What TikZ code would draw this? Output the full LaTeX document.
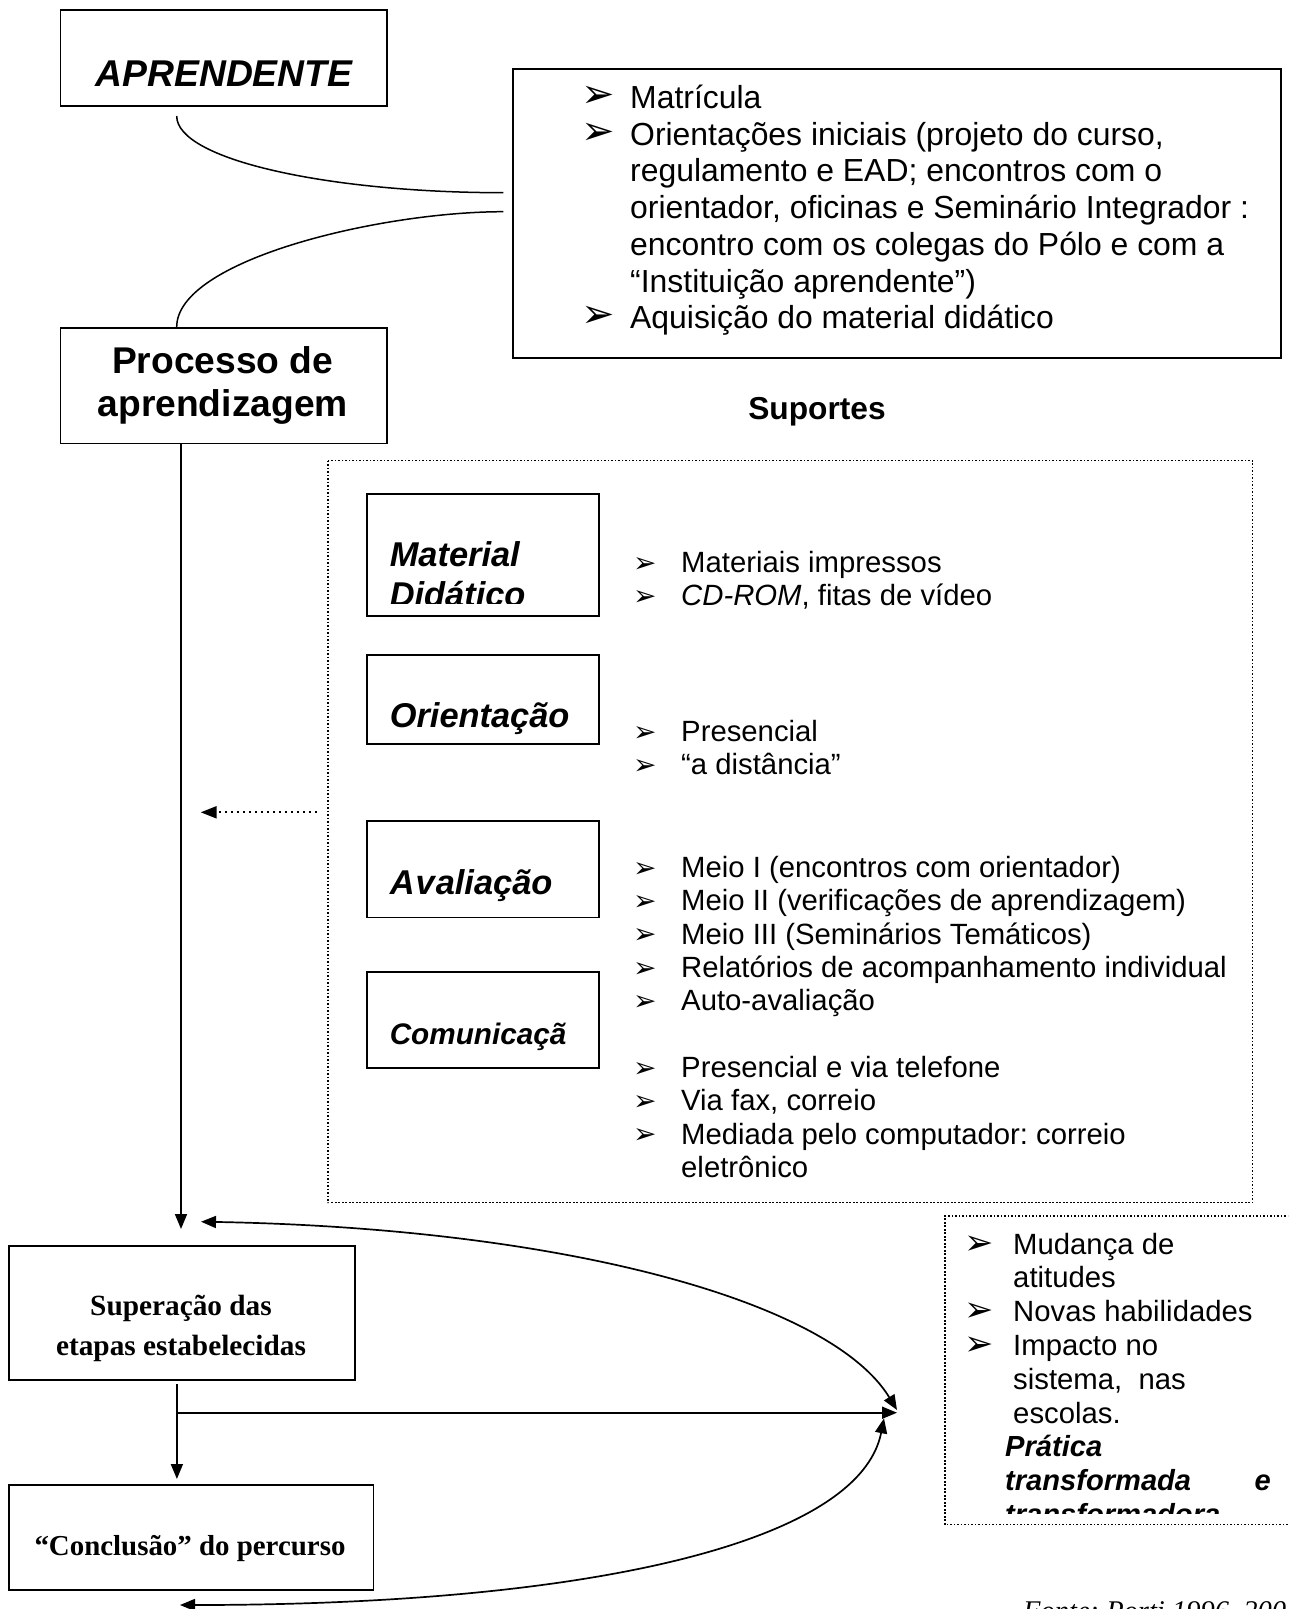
\documentclass[tikz,border=0pt]{standalone}
\usepackage{fontspec}
\setmainfont{Liberation Sans}
\newfontfamily\tnr{Liberation Serif}
\newfontfamily\dv{DejaVu Sans}
\usetikzlibrary{arrows.meta}
\frenchspacing
\newcommand\myfs[2]{\fontsize{#1pt}{#2pt}\selectfont}
\newcommand\mybul[1]{{\dv\fontsize{#1pt}{#1pt}\selectfont ➢}}
\begin{document}
\begin{tikzpicture}[x=1pt,y=-1pt,
  box/.style={draw, line width=1.6pt, inner sep=0pt, anchor=north west},
  dotline/.style={line width=1.6pt, dash pattern=on 1.6pt off 1.9pt},
  conn/.style={line width=1.7pt},
  tipT/.style={-{Triangle[length=15pt,width=12pt]}},
  tipTT/.style={{Triangle[length=15pt,width=12pt]}-{Triangle[length=15pt,width=12pt]}},
  bw/.style={anchor=base west, inner sep=0pt},
  bc/.style={anchor=base, inner sep=0pt},
  tbig/.style={font=\myfs{31.9}{36.7}},
  tmid/.style={font=\myfs{29.3}{33.8}},
  head/.style={font=\myfs{34.4}{39}\bfseries\itshape},
]
\useasboundingbox (0,0) rectangle (1288,1609);
\clip (0,0) rectangle (1288,1609);
\fill[white] (0,0) rectangle (1288,1609);

% ---------- top ----------
\node[box, minimum width=326.5pt, minimum height=96pt] (aprendente) at (59.5,9) {};
\node[bc, font=\myfs{37.3}{43}\bfseries\itshape] (aprtxt) at (224,86) {APRENDENTE};

\node[box, minimum width=326.5pt, minimum height=115.5pt] (processo) at (59.5,327) {};
\node[bc, font=\myfs{37.2}{43}\bfseries] (proc1) at (222.75,373.3) {Processo de};
\node[bc, font=\myfs{37.2}{43}\bfseries] (proc2) at (222.75,416.7) {aprendizagem};

\node[box, minimum width=768pt, minimum height=289pt] (topbox) at (512,68) {};
\node[bw] (tb1) at (581,107.5) {\mybul{40}};
\node[bw, tbig] (tt1) at (630,108.5) {Matrícula};
\node[bw] (tb2) at (581,144.2) {\mybul{40}};
\node[bw, tbig] (tt2) at (630,145.2) {Orientações iniciais (projeto do curso,};
\node[bw, tbig] (tt3) at (630,181.9) {regulamento e EAD; encontros com o};
\node[bw, tbig] (tt4) at (630,218.6) {orientador, oficinas e Seminário Integrador :};
\node[bw, tbig] (tt5) at (630,255.3) {encontro com os colegas do Pólo e com a};
\node[bw, tbig] (tt6) at (630,292) {“Instituição aprendente”)};
\node[bw] (tb7) at (581,327.7) {\mybul{40}};
\node[bw, tbig] (tt7) at (630,328.7) {Aquisição do material didático};

\coordinate (c1s) at (176.7,116);
\coordinate (c1e) at (503.3,192.7);
\coordinate (c2s) at (503.3,211.7);
\draw[line width=1.5pt] (c1s) .. controls (176.7,160) and (330,192.7) .. (c1e);
\draw[line width=1.5pt] (c2s) .. controls (380,211.7) and (176.7,260) .. (processo.north -| c1s);

\node[bc, font=\myfs{31.7}{36}\bfseries] (suportes) at (817,419) {Suportes};

% ---------- supports ----------
\node[box, draw=none, minimum width=923pt, minimum height=740.5pt] (outer) at (328,460.5) {};
\draw[dotline] (outer.north west) rectangle (outer.south east);

\node[box, minimum width=232pt, minimum height=122pt] (matbox) at (366,493) {};
\begin{scope}
  \clip (366,493) rectangle (598,603.5);
  \node[bw, head] (mat1) at (389.6,566.7) {Material};
  \node[bw, head] (mat2) at (389.6,606) {Didático};
\end{scope}
\node[bw] (mb1) at (633,572) {\mybul{28}};
\node[bw, tmid] (ml1) at (681,572.5) {Materiais impressos};
\node[bw] (mb2) at (633,605.3) {\mybul{28}};
\node[bw, tmid] (ml2) at (681,605.8) {\textit{CD-ROM}, fitas de vídeo};

\node[box, minimum width=232pt, minimum height=89pt] (oribox) at (366,654) {};
\node[bw, head] (oritxt) at (389.6,727.5) {Orientação};
\node[bw] (ob1) at (633,741.3) {\mybul{28}};
\node[bw, tmid] (ol1) at (681,741.8) {Presencial};
\node[bw] (ob2) at (633,774.3) {\mybul{28}};
\node[bw, tmid] (ol2) at (681,774.8) {“a distância”};

\node[box, minimum width=232pt, minimum height=96.5pt] (avabox) at (366,820) {};
\node[bw, head] (avatxt) at (389.6,894) {A\kern1pt v\kern1pt aliação};
\node[bw] (ab1) at (633,877) {\mybul{28}};
\node[bw, tmid] (al1) at (681,877.5) {Meio I (encontros com orientador)};
\node[bw] (ab2) at (633,910.3) {\mybul{28}};
\node[bw, tmid] (al2) at (681,910.8) {Meio II (verificações de aprendizagem)};
\node[bw] (ab3) at (633,943.6) {\mybul{28}};
\node[bw, tmid] (al3) at (681,944.1) {Meio III (Seminários Temáticos)};
\node[bw] (ab4) at (633,977) {\mybul{28}};
\node[bw, tmid] (al4) at (681,977.5) {Relatórios de acompanhamento individual};
\node[bw] (ab5) at (633,1010.3) {\mybul{28}};
\node[bw, tmid] (al5) at (681,1010.8) {Auto-avaliação};

\node[box, minimum width=232pt, minimum height=96pt] (combox) at (366,971) {};
\node[bw, font=\myfs{29.7}{34}\bfseries\itshape] (comtxt) at (389.6,1044) {Comunicaçã};
\node[bw] (cb1) at (633,1077) {\mybul{28}};
\node[bw, tmid] (cl1) at (681,1077.5) {Presencial e via telefone};
\node[bw] (cb2) at (633,1110.3) {\mybul{28}};
\node[bw, tmid] (cl2) at (681,1110.8) {Via fax, correio};
\node[bw] (cb3) at (633,1143.6) {\mybul{28}};
\node[bw, tmid] (cl3) at (681,1144.1) {Mediada pelo computador: correio};
\node[bw, tmid] (cl4) at (681,1177.5) {eletrônico};

\coordinate (dots) at (316.7,812.3);
\coordinate (dote) at (200.7,812.3);
\draw[line width=2.2pt, dash pattern=on 2.2pt off 3.8pt, -{Triangle[length=16pt,width=12pt]}] (dots) -- (dote);

% ---------- bottom ----------
\coordinate (m2) at (181,1229);
\draw[conn, tipT] (m2 |- processo.south) -- (m2);

\node[box, minimum width=346pt, minimum height=134pt] (supbox) at (8,1245) {};
\node[bc, font=\myfs{29.3}{40}\bfseries\tnr] (sup1) at (181,1315) {Superação das};
\node[bc, font=\myfs{29.3}{40}\bfseries\tnr] (sup2) at (181,1355) {etapas estabelecidas};

\node[box, minimum width=364.5pt, minimum height=105pt] (conbox) at (8,1484) {};
\node[bc, font=\myfs{28.9}{34}\bfseries\tnr] (contxt) at (190,1555) {“Conclusão” do percurso};

\coordinate (v1) at (176.9,1384);
\coordinate (v2) at (176.9,1479);
\coordinate (hj) at (176.9,1412.7);
\coordinate (he) at (897,1412.7);
\draw[conn, tipT] (v1) -- (v2);
\draw[conn, tipT] (hj) -- (he);

\coordinate (a1l) at (201,1221.7);
\coordinate (a1r) at (897,1410);
\draw[conn, tipTT] (a1l) .. controls (560,1228) and (830,1300) .. (a1r);

\coordinate (a2r) at (884,1418.3);
\coordinate (a2l) at (180,1605);
\draw[conn, tipTT] (a2r) .. controls (860,1540) and (600,1605) .. (a2l);

% right dotted box
\node[box, draw=none, minimum width=360pt, minimum height=307pt] (rbox) at (945,1216) {};
\draw[dotline] (rbox.north east) -- (rbox.north west) -- (rbox.south west) -- (rbox.south east);
\node[bw] (rb1) at (964,1254) {\mybul{35}};
\node[bw, tmid] (rl1) at (1013,1254) {Mudança de};
\node[bw, tmid] (rl2) at (1013,1287.8) {atitudes};
\node[bw] (rb3) at (964,1321.6) {\mybul{35}};
\node[bw, tmid] (rl3) at (1013,1321.6) {Novas habilidades};
\node[bw] (rb4) at (964,1355.4) {\mybul{35}};
\node[bw, tmid] (rl4) at (1013,1355.4) {Impacto no};
\node[bw, tmid] (rl5) at (1013,1389.2) {sistema,\ \ nas};
\node[bw, tmid] (rl6) at (1013,1423) {escolas.};
\node[bw, font=\myfs{29.1}{33.8}\bfseries\itshape] (rl7) at (1005,1456.8) {Prática};
\node[bw, font=\myfs{29.1}{33.8}\bfseries\itshape] (rl8) at (1005,1490.6) {transformada};
\node[anchor=base east, inner sep=0pt, font=\myfs{29.1}{33.8}\bfseries\itshape] (rl8e) at (1271,1490.6) {e};
\begin{scope}
  \clip (945,1216) rectangle (1288,1513);
  \node[bw, font=\myfs{29.1}{33.8}\bfseries\itshape] (rl9) at (1005,1524.4) {transformadora};
\end{scope}

\node[bw, font=\myfs{28.5}{33}\itshape\tnr] (fonte) at (1023,1620) {Fonte: Porti 1996, 2001};
\end{tikzpicture}
\end{document}
